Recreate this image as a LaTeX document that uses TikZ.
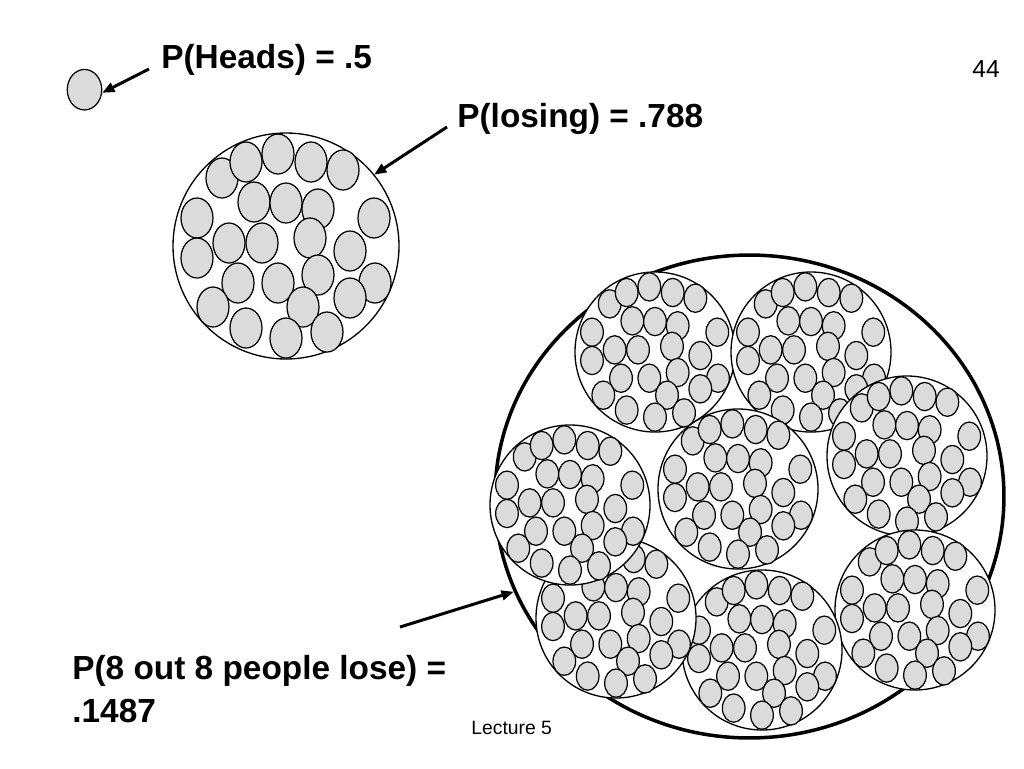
\documentclass[tikz,border=0pt]{standalone}
\usepackage{fontspec}
\setmainfont{Liberation Sans}
\usetikzlibrary{arrows.meta, shapes.geometric}

\tikzset{
    person/.style={draw, fill=gray!28, line width=0.7pt},
    pics/crowd/.style={code={
        \draw[fill=white, line width=0.75pt] (0,0) circle (113);
        \foreach \dx/\dy in {-64/-68, -40/-84, -8/-92, 25/-84, 57/-76, -32/-44, 0/-43, 32/-37, -89/-28, 88/-28, -57/-3, -24/-3, 24/-8, -89/12, 64/5, -48/37, -8/37, 32/29, 89/37, -73/61, 17/61, 64/52, -40/82, 0/92, 41/86}
            \draw[person] (\dx,\dy) ellipse (16 and 20);
    }}
}

\begin{document}
\begin{tikzpicture}[x=0.02cm, y=-0.02cm,
    prob/.style={font=\fontsize{19}{24.4}\selectfont\bfseries, inner sep=0pt, anchor=base west},
    small/.style={inner sep=0pt, anchor=base west},
    arrow/.style={line width=1.7pt, -{Triangle[length=7pt, width=5.5pt]}}
]
\useasboundingbox (0,0) rectangle (1024,768);

\node[person, ellipse, minimum width=0.69cm, minimum height=0.81cm, inner sep=0pt] (heads) at (84.5,89.7) {};
\node[circle, minimum size=4.52cm, inner sep=0pt] (losing) at (286,246) {};
\pic at (286,246) {crowd};

\node[draw, ellipse, line width=2pt, minimum width=10.18cm, minimum height=9.66cm, inner sep=0pt] (eight) at (749.5,496.5) {};
\foreach \cx/\cy in {655/352, 811/352, 738/489, 907/456, 915/610, 762/650, 616/618, 570/505}
    \pic[scale=0.708] at (\cx,\cy) {crowd};

\node[prob] (headstext) at (161,68) {P(Heads) = .5};
\node[prob] (losingtext) at (457,127) {P(losing) = .788};
\node[prob, align=left] (eighttext) at (72,722) {P(8 out 8 people lose) =\\.1487};
\node[small, font=\fontsize{11}{13}\selectfont] (lecture) at (471,734) {Lecture 5};
\node[small, font=\fontsize{14}{17}\selectfont] (page) at (972,77) {44};

\coordinate (headstail) at (149,69);
\coordinate (losingtail) at (447,127);
\coordinate (eighttail) at (400,627);

\draw[arrow] (headstail) -- (heads.-10);
\draw[arrow] (losingtail) -- (losing.39);
\draw[arrow] (eighttail) -- (eight.202);

\end{tikzpicture}
\end{document}
